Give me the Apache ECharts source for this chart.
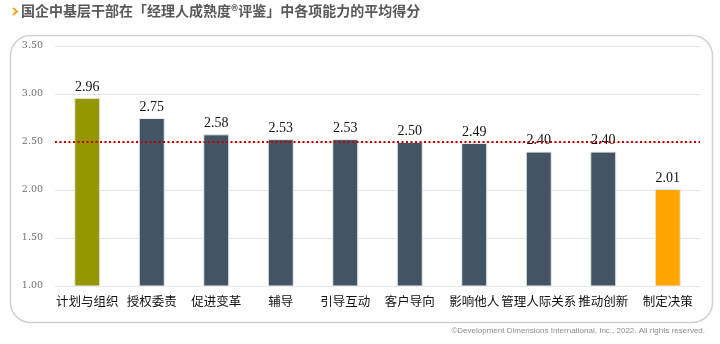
<!DOCTYPE html>
<html>
<head>
<meta charset="utf-8">
<script src="https://cdn.jsdelivr.net/npm/echarts@6/dist/echarts.min.js"></script>
<style>
  html, body { margin: 0; padding: 0; background: #fff; }
  #chart { width: 720px; height: 344px; }
</style>
</head>
<body>
<div id="chart"></div>
<script>
// Average scores per competency
const categories = ['计划与组织', '授权委责', '促进变革', '辅导', '引导互动', '客户导向', '影响他人', '管理人际关系', '推动创新', '制定决策'];
const scores = [2.96, 2.75, 2.58, 2.53, 2.53, 2.50, 2.49, 2.40, 2.40, 2.01];
const barColors = ['#969600', '#435464', '#435464', '#435464', '#435464', '#435464', '#435464', '#435464', '#435464', '#FFA500'];
const referenceLevel = 2.5;
const yTicks = { min: 1, max: 3.5, step: 0.5 };

const chart = echarts.init(document.getElementById('chart'));

chart.setOption({
  animation: false,
  graphic: [
    {
      type: 'rect',
      left: 8, top: 33,
      shape: { width: 702, height: 287, r: 20 },
      style: { fill: 'none', stroke: '#d0d0d0', lineWidth: 1.5 },
      z: -1
    },
    {
      type: 'polyline',
      shape: { points: [[13, 8], [17, 11.5], [13, 15]] },
      style: { stroke: '#F5A623', lineWidth: 2, fill: null }
    },
    {
      type: 'text',
      left: 21, top: 4,
      style: {
        text: '国企中基层干部在「经理人成熟度®评鉴」中各项能力的平均得分',
        fill: '#595959',
        font: 'bold 14px "Noto Sans CJK SC"'
      }
    },
    {
      type: 'text',
      right: 15, top: 327,
      style: {
        text: '©Development Dimensions International, Inc., 2022. All rights reserved.',
        fill: '#8c8c8c',
        font: '8px "Liberation Sans"'
      }
    }
  ],
  grid: { left: 55, right: 20, top: 46, bottom: 58 },
  xAxis: {
    type: 'category',
    data: categories,
    axisLine: { show: false },
    axisTick: { show: false },
    axisLabel: {
      interval: 0,
      margin: 9,
      color: '#111',
      fontSize: 12.5,
      fontFamily: '"Noto Sans CJK SC"'
    }
  },
  yAxis: {
    type: 'value',
    min: yTicks.min,
    max: yTicks.max,
    interval: yTicks.step,
    axisLine: { show: false },
    axisTick: { show: false },
    axisLabel: {
      formatter: v => v.toFixed(2),
      color: '#707070',
      fontSize: 9.5,
      fontFamily: '"DejaVu Serif"',
      margin: 12
    },
    splitLine: { lineStyle: { color: '#e6e6e6', width: 1 } }
  },
  series: [
    {
      type: 'bar',
      data: scores.map((v, i) => ({ value: v, itemStyle: { color: barColors[i] } })),
      barWidth: 26,
      itemStyle: { borderColor: '#e8ecef', borderWidth: 1 },
      label: {
        show: true,
        position: 'top',
        distance: 4,
        formatter: p => p.value.toFixed(2),
        color: '#111',
        fontSize: 14,
        fontFamily: '"Liberation Serif"'
      },
      markLine: {
        silent: true,
        symbol: 'none',
        label: { show: false },
        lineStyle: { color: '#C00000', type: [2, 2.5], width: 2 },
        data: [{ yAxis: referenceLevel }],
        z: 5
      }
    }
  ]
});
</script>
</body>
</html>
